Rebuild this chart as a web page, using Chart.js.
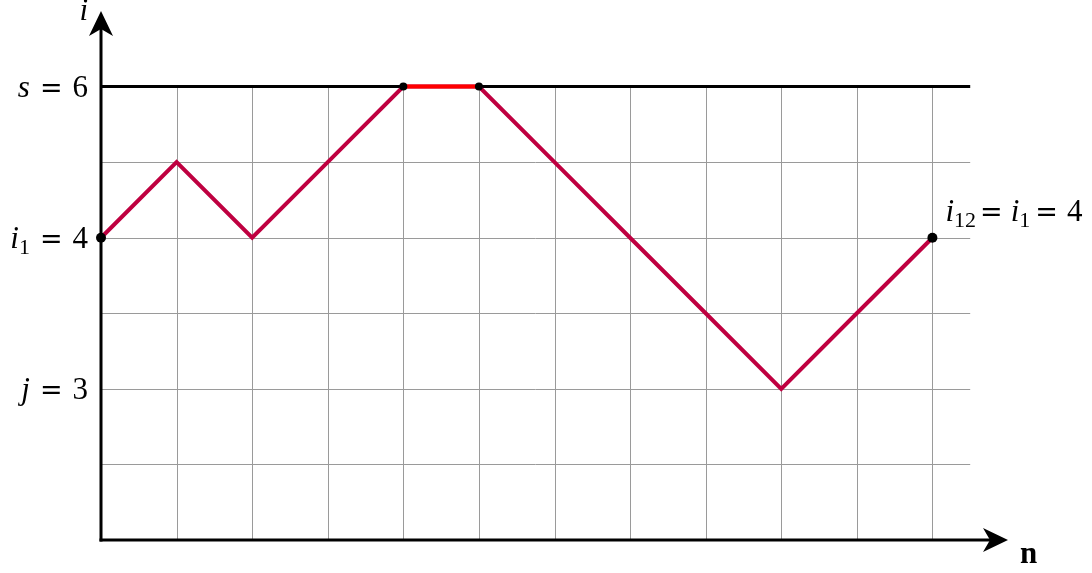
<!DOCTYPE html>
<html>
<head>
<meta charset="utf-8">
<script src="https://cdn.jsdelivr.net/npm/chart.js@4.4.0/dist/chart.umd.min.js"></script>
<style>
  html, body { margin: 0; padding: 0; background: #fff; }
  #wrap { width: 1092px; height: 573px; }
</style>
</head>
<body>
<div id="wrap"><canvas id="grafico" width="1092" height="573"></canvas></div>
<script>
// dati del cammino
const nValues = [0, 1, 2, 3, 4, 5, 6, 7, 8, 9, 10, 11];
const iValues = [4, 5, 4, 5, 6, 6, 5, 4, 3, 2, 3, 4];

// tratto rosso sul livello s
const redN = [4, 5];
const redI = [6, 6];

// punti neri
const dotN = [0, 4, 5, 11];
const dotI = [4, 6, 6, 4];

// livello s e griglia
const sLevel = 6;
const gridEnd = 11.5;
const gridN = [1, 2, 3, 4, 5, 6, 7, 8, 9, 10, 11];
const gridI = [1, 2, 3, 4, 5];
const axisMaxN = 12;
const axisMaxI = 7;

// etichette asse verticale
const yTickValues = [6, 4, 2];
const yTickLabels = [
  [{ t: "s", it: true }, { g: 10 }, { t: "=", eq: true }, { g: 10 }, { t: "6" }],
  [{ t: "i", it: true }, { t: "1", sub: true }, { g: 10 }, { t: "=", eq: true }, { g: 10 }, { t: "4" }],
  [{ t: "j", it: true }, { g: 10 }, { t: "=", eq: true }, { g: 10 }, { t: "3" }]
];
const endLabel = [
  { t: "i", it: true }, { t: "12", sub: true }, { g: 4 }, { t: "=", eq: true }, { g: 8 },
  { t: "i", it: true }, { t: "1", sub: true }, { g: 5 }, { t: "=", eq: true }, { g: 9 }, { t: "4" }
];

const FONT = "'Liberation Serif', 'DejaVu Serif', serif";
const SIZE = 31;

function toXY(xs, ys) {
  return xs.map((v, k) => ({ x: v, y: ys[k] }));
}

function fontFor(s) {
  if (s.eq) return "27px 'DejaVu Serif', serif";
  let size = s.sub ? Math.round(SIZE * 0.72) : SIZE;
  return (s.it ? "italic " : "") + (s.bold ? "bold " : "") + size + "px " + FONT;
}

function segWidth(ctx, s) {
  if (s.g !== undefined) return s.g;
  ctx.font = fontFor(s);
  return ctx.measureText(s.t).width;
}

function drawRich(ctx, segs, x, baseline, align) {
  let w = 0;
  segs.forEach(s => { w += segWidth(ctx, s); });
  let cx = align === "right" ? x - w : x;
  ctx.textAlign = "left";
  ctx.textBaseline = "alphabetic";
  segs.forEach(s => {
    if (s.t !== undefined) {
      ctx.font = fontFor(s);
      ctx.fillText(s.t, cx, s.sub ? baseline + 6 : baseline);
    }
    cx += segWidth(ctx, s);
  });
}

function line(ctx, x1, y1, x2, y2) {
  ctx.beginPath();
  ctx.moveTo(x1, y1);
  ctx.lineTo(x2, y2);
  ctx.stroke();
}

// freccia tipo stealth: punta (tx,ty), direzione (dx,dy)
function arrow(ctx, tx, ty, dx, dy) {
  let len = 25, half = 12, notch = 18;
  let px = -dy, py = dx;
  ctx.beginPath();
  ctx.moveTo(tx, ty);
  ctx.lineTo(tx - dx * len + px * half, ty - dy * len + py * half);
  ctx.lineTo(tx - dx * notch, ty - dy * notch);
  ctx.lineTo(tx - dx * len - px * half, ty - dy * len - py * half);
  ctx.closePath();
  ctx.fill();
}

const sfondoPlugin = {
  id: "sfondo",
  beforeDatasetsDraw(chart) {
    const { ctx } = chart;
    const x = chart.scales.x, y = chart.scales.y;
    ctx.save();
    // griglia grigia
    ctx.strokeStyle = "#9a9a9a";
    ctx.lineWidth = 1;
    gridN.forEach(n => {
      let px = Math.round(x.getPixelForValue(n)) + 0.5;
      line(ctx, px, y.getPixelForValue(0), px, y.getPixelForValue(sLevel));
    });
    gridI.forEach(i => {
      let py = Math.round(y.getPixelForValue(i)) + 0.5;
      line(ctx, x.getPixelForValue(0), py, x.getPixelForValue(gridEnd), py);
    });
    // assi
    let x0 = x.getPixelForValue(0), y0 = y.getPixelForValue(0);
    let xTip = x.getPixelForValue(axisMaxN), yTip = y.getPixelForValue(axisMaxI);
    ctx.strokeStyle = "#000";
    ctx.fillStyle = "#000";
    ctx.lineWidth = 3;
    ctx.lineCap = "butt";
    line(ctx, x0 - 1.5, y0, xTip - 18, y0);
    line(ctx, x0, y0 + 1.5, x0, yTip + 18);
    arrow(ctx, xTip, y0, 1, 0);
    arrow(ctx, x0, yTip, 0, -1);
    ctx.restore();
  },
  afterDraw(chart) {
    const { ctx } = chart;
    const x = chart.scales.x, y = chart.scales.y;
    let x0 = x.getPixelForValue(0), y0 = y.getPixelForValue(0);
    ctx.save();
    ctx.fillStyle = "#000";
    yTickValues.forEach((v, k) => {
      drawRich(ctx, yTickLabels[k], x0 - 13, y.getPixelForValue(v) + 10, "right");
    });
    // nome assi
    drawRich(ctx, [{ t: "i", it: true }], x0 - 13, y.getPixelForValue(axisMaxI) + 9, "right");
    drawRich(ctx, [{ t: "n", bold: true }], x.getPixelForValue(axisMaxN) + 12, y0 + 23, "left");
    // etichetta punto finale
    let last = nValues.length - 1;
    drawRich(ctx, endLabel, x.getPixelForValue(nValues[last]) + 13,
      y.getPixelForValue(iValues[last]) - 17, "left");
    ctx.restore();
  }
};

new Chart(document.getElementById("grafico").getContext("2d"), {
  type: "scatter",
  data: {
    datasets: [
      {
        label: "punti",
        data: toXY(dotN, dotI),
        showLine: false,
        pointRadius: [5, 4, 4, 5],
        pointBackgroundColor: "#000",
        pointBorderWidth: 0,
        clip: false
      },
      {
        label: "tratto s",
        data: toXY(redN, redI),
        showLine: true,
        borderColor: "#ff0000",
        borderWidth: 4,
        pointRadius: 0,
        clip: false
      },
      {
        label: "cammino",
        data: toXY(nValues, iValues),
        showLine: true,
        borderColor: "#bf0040",
        borderWidth: 4,
        borderJoinStyle: "miter",
        pointRadius: 0,
        tension: 0,
        clip: false
      },
      {
        label: "livello s",
        data: toXY([0, gridEnd], [sLevel, sLevel]),
        showLine: true,
        borderColor: "#000",
        borderWidth: 3,
        pointRadius: 0,
        clip: false
      }
    ]
  },
  options: {
    responsive: false,
    animation: false,
    events: [],
    layout: { padding: { left: 101, right: 84, top: 11, bottom: 33 } },
    plugins: { legend: { display: false }, tooltip: { enabled: false } },
    scales: {
      x: { type: "linear", min: 0, max: axisMaxN, display: false },
      y: { type: "linear", min: 0, max: axisMaxI, display: false }
    }
  },
  plugins: [sfondoPlugin]
});
</script>
</body>
</html>
